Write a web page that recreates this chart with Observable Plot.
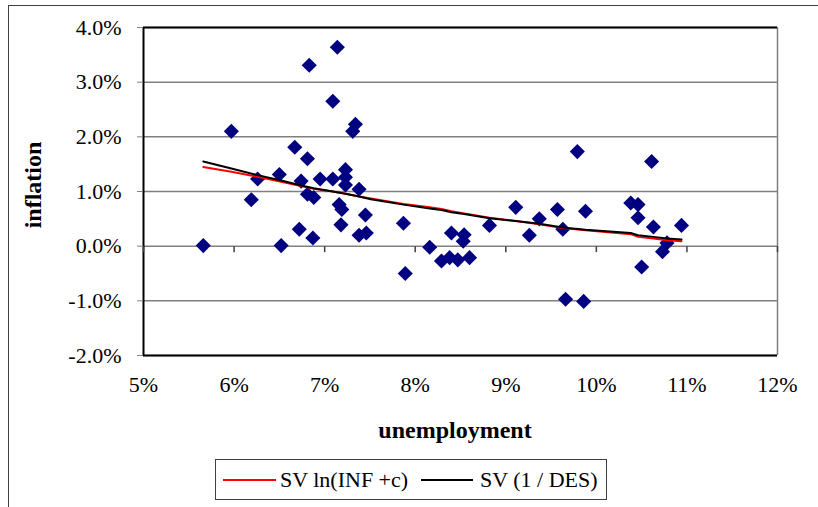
<!DOCTYPE html>
<html>
<head>
<meta charset="utf-8">
<script src="https://cdn.jsdelivr.net/npm/d3@7"></script>
<script src="https://cdn.jsdelivr.net/npm/@observablehq/plot@0.6"></script>
<style>
  html, body { margin: 0; padding: 0; background: white; overflow: hidden; }
  #wrap { position: relative; width: 818px; height: 507px; overflow: hidden; font-family: "Liberation Serif", "Times New Roman", serif; color: black; }
  .outer { position: absolute; left: 8px; top: 5px; width: 900px; height: 700px; border: 1.5px solid #404040; }
  #chart { position: absolute; left: 0; top: 0; }
  #chart svg, #chart svg text { font-family: "Liberation Serif", "Times New Roman", serif !important; font-size: 22px; }
  .title-x { position: absolute; left: 305px; width: 300px; top: 416px; height: 28px; line-height: 28px; text-align: center; font-weight: bold; font-size: 24px; }
  .title-y { position: absolute; left: -67px; width: 200px; top: 171px; height: 28px; line-height: 28px; text-align: center; font-weight: bold; font-size: 24px; transform: rotate(-90deg); }
  .legend { position: absolute; left: 215px; top: 459px; width: 392px; height: 41px; box-sizing: border-box; border: 1.5px solid #404040; font-size: 22px; }
  .legend .sw { position: absolute; top: 18.5px; height: 2px; }
  .legend .lb { position: absolute; top: -1.5px; line-height: 41px; white-space: nowrap; }
</style>
</head>
<body>
<div id="wrap">
  <div class="outer"></div>
  <div id="chart"></div>
  <div class="title-x">unemployment</div>
  <div class="title-y">inflation</div>
  <div class="legend">
    <div class="sw" style="left:7px;width:53px;background:#ff0000"></div>
    <div class="lb" style="left:64px">SV ln(INF +c)</div>
    <div class="sw" style="left:205px;width:52px;background:#000000"></div>
    <div class="lb" style="left:264px">SV (1 / DES)</div>
  </div>
</div>
<script>
// Scatter data (percent)
const unemployment = [5.66, 5.97, 6.19, 6.26, 6.50, 6.52, 6.67, 6.72, 6.74, 6.81, 6.81, 6.83, 6.87, 6.88, 6.95,
  7.09, 7.09, 7.14, 7.16, 7.18, 7.19, 7.23, 7.23, 7.23, 7.31, 7.34, 7.38, 7.38, 7.45, 7.46,
  7.87, 7.89, 8.16, 8.29, 8.38, 8.40, 8.47, 8.53, 8.54, 8.60, 8.82, 9.11, 9.26, 9.37, 9.57,
  9.63, 9.66, 9.79, 9.86, 9.88, 10.38, 10.46, 10.46, 10.50, 10.61, 10.63, 10.73, 10.78, 10.94];
const inflation = [0.01, 2.10, 0.85, 1.23, 1.31, 0.01, 1.81, 0.31, 1.19, 1.60, 0.95, 3.31, 0.15, 0.89, 1.23,
  2.65, 1.23, 3.64, 0.76, 0.39, 0.67, 1.40, 1.26, 1.12, 2.10, 2.23, 1.04, 0.20, 0.57, 0.24,
  0.42, -0.50, -0.02, -0.27, -0.21, 0.24, -0.25, 0.09, 0.21, -0.21, 0.38, 0.71, 0.20, 0.50, 0.67,
  0.31, -0.97, 1.73, -1.01, 0.64, 0.79, 0.76, 0.52, -0.38, 1.55, 0.35, -0.10, 0.06, 0.38];

// Fitted curves
const curveX = [5.66, 5.97, 6.26, 6.52, 6.74, 6.88, 7.09, 7.23, 7.38, 7.51, 7.87, 8.16, 8.29, 8.40, 8.54,
  8.82, 9.11, 9.37, 9.63, 9.88, 10.38, 10.46, 10.63, 10.78, 10.94];
const svLn = [1.45, 1.36, 1.27, 1.18, 1.10, 1.05, 1.00, 0.96, 0.91, 0.87, 0.77, 0.71, 0.68, 0.64, 0.60,
  0.52, 0.46, 0.40, 0.33, 0.29, 0.22, 0.17, 0.14, 0.11, 0.09];
const svDes = [1.55, 1.42, 1.30, 1.20, 1.11, 1.06, 1.00, 0.96, 0.91, 0.86, 0.76, 0.69, 0.66, 0.62, 0.59,
  0.51, 0.46, 0.41, 0.34, 0.30, 0.24, 0.20, 0.17, 0.14, 0.12];

const xTicks = [5, 6, 7, 8, 9, 10, 11, 12];
const yTicks = [-2, -1, 0, 1, 2, 3, 4];

const points = unemployment.map((u, i) => ({u, inf: inflation[i]}));

const tickSymbol = {
  draw(ctx, size) {
    const l = Math.sqrt(size / Math.PI);
    ctx.moveTo(0, 0);
    ctx.lineTo(0, l);
  }
};

const serif = "'Liberation Serif', 'Times New Roman', serif";

const chart = Plot.plot({
  width: 818,
  height: 507,
  marginLeft: 143,
  marginRight: 41,
  marginTop: 27,
  marginBottom: 152,
  x: {domain: [5, 12], label: null},
  y: {domain: [-2, 4], label: null},
  style: {fontFamily: serif, fontSize: "22px", color: "black", background: "transparent", overflow: "visible"},
  marks: [
    Plot.ruleY(yTicks, {stroke: "#808080", strokeWidth: 1.5}),
    Plot.ruleX([xTicks[xTicks.length - 1]], {stroke: "#808080", strokeWidth: 1.5}),
    Plot.ruleY([yTicks[yTicks.length - 1]], {stroke: "black", strokeWidth: 2}),
    Plot.ruleY([yTicks[0]], {stroke: "black", strokeWidth: 2}),
    Plot.ruleX([xTicks[0]], {stroke: "black", strokeWidth: 2}),
    Plot.dot(xTicks, {x: d => d, y: () => 0, symbol: tickSymbol, r: 6, stroke: "#404040", strokeWidth: 1.5, fill: "none"}),
    Plot.axisX({ticks: xTicks, tickSize: 0, tickPadding: 21, label: null, fontFamily: serif, fontSize: 22, tickFormat: d => d + "%"}),
    Plot.axisY({ticks: yTicks, tickSize: 6, tickPadding: 16, label: null, fontFamily: serif, fontSize: 22, stroke: "#808080", tickFormat: d => d.toFixed(1) + "%"}),
    Plot.dot(points, {x: "u", y: "inf", symbol: "diamond2", r: 6.8, fill: "#000080", stroke: "none"}),
    Plot.line(curveX, {x: d => d, y: (d, i) => svLn[i], stroke: "#ff0000", strokeWidth: 2}),
    Plot.line(curveX, {x: d => d, y: (d, i) => svDes[i], stroke: "#000000", strokeWidth: 2})
  ]
});
document.getElementById("chart").appendChild(chart);
</script>
</body>
</html>
